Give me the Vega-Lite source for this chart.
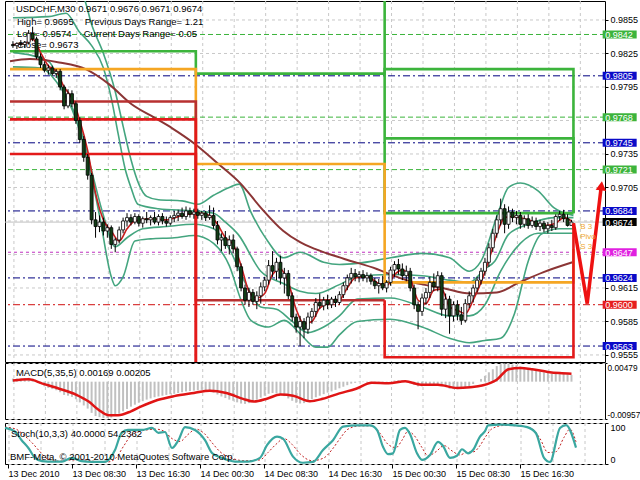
{
"$schema":"https://vega.github.io/schema/vega-lite/v6.json",
"padding":0,
"spacing":-2,
"background":"white",
"config":{
 "view":{"stroke":"#000","strokeWidth":1},
 "font":"Liberation Sans",
 "axis":{"labelFont":"Liberation Sans","labelFontSize":9,"labelColor":"#000","tickColor":"#000","tickSize":3,"domain":false,"title":null,"gridColor":"#c8c8c8","gridDash":[3,3],"gridWidth":1,"labelPadding":2,"labelOverlap":false}
},
"datasets":{
 "one":[{}],
 "vg":[{"g":1.25},{"g":9.25},{"g":17.25},{"g":25.25},{"g":33.25},{"g":41.25},{"g":49.25},{"g":57.25},{"g":65.25},{"g":73.25},{"g":81.25},{"g":89.25},{"g":97.25},{"g":105.25},{"g":113.25},{"g":121.25},{"g":129.25},{"g":137.25},{"g":145.25}],
 "hg":[{"p":0.9555},{"p":0.9585},{"p":0.9615},{"p":0.9645},{"p":0.9675},{"p":0.9705},{"p":0.9735},{"p":0.9765},{"p":0.9795},{"p":0.9825},{"p":0.9855}],
 "bars":[
{"i":1,"o":0.9833,"h":0.9836,"l":0.983,"c":0.9832,"m":0.0008},
{"i":2,"o":0.9832,"h":0.9835,"l":0.9829,"c":0.9834,"m":0.0008},
{"i":3,"o":0.9834,"h":0.9837,"l":0.9831,"c":0.9833,"m":0.0008},
{"i":4,"o":0.9833,"h":0.9836,"l":0.983,"c":0.9835,"m":0.0009},
{"i":5,"o":0.9835,"h":0.9846,"l":0.9833,"c":0.9843,"m":0.001},
{"i":6,"o":0.9843,"h":0.9849,"l":0.9836,"c":0.9838,"m":0.0008},
{"i":7,"o":0.9838,"h":0.984,"l":0.982,"c":0.9822,"m":0.0002},
{"i":8,"o":0.9822,"h":0.9825,"l":0.9812,"c":0.9815,"m":-0.0006},
{"i":9,"o":0.9815,"h":0.9818,"l":0.9808,"c":0.981,"m":-0.0012},
{"i":10,"o":0.981,"h":0.9815,"l":0.9806,"c":0.9812,"m":-0.0016},
{"i":11,"o":0.9812,"h":0.9814,"l":0.9805,"c":0.9807,"m":-0.0019},
{"i":12,"o":0.9807,"h":0.9811,"l":0.9803,"c":0.9809,"m":-0.0022},
{"i":13,"o":0.9809,"h":0.9811,"l":0.9792,"c":0.9795,"m":-0.0027},
{"i":14,"o":0.9795,"h":0.9797,"l":0.9775,"c":0.9778,"m":-0.0034},
{"i":15,"o":0.9778,"h":0.9793,"l":0.9776,"c":0.9789,"m":-0.0036},
{"i":16,"o":0.9789,"h":0.9792,"l":0.9777,"c":0.978,"m":-0.0039},
{"i":17,"o":0.978,"h":0.9782,"l":0.9762,"c":0.9765,"m":-0.0045},
{"i":18,"o":0.9765,"h":0.9768,"l":0.9745,"c":0.9748,"m":-0.0053},
{"i":19,"o":0.9748,"h":0.9751,"l":0.9728,"c":0.9732,"m":-0.0061},
{"i":20,"o":0.9732,"h":0.9735,"l":0.9712,"c":0.9716,"m":-0.0069},
{"i":21,"o":0.9716,"h":0.9718,"l":0.9672,"c":0.9676,"m":-0.008},
{"i":22,"o":0.9676,"h":0.9683,"l":0.966,"c":0.967,"m":-0.0088},
{"i":23,"o":0.967,"h":0.968,"l":0.9665,"c":0.9674,"m":-0.0091},
{"i":24,"o":0.9674,"h":0.9678,"l":0.9662,"c":0.9666,"m":-0.0093},
{"i":25,"o":0.9666,"h":0.9672,"l":0.966,"c":0.9669,"m":-0.0093},
{"i":26,"o":0.9669,"h":0.9671,"l":0.965,"c":0.9654,"m":-0.0092},
{"i":27,"o":0.9654,"h":0.966,"l":0.9647,"c":0.9658,"m":-0.0088},
{"i":28,"o":0.9658,"h":0.967,"l":0.9655,"c":0.9667,"m":-0.0082},
{"i":29,"o":0.9667,"h":0.9678,"l":0.9664,"c":0.9675,"m":-0.0076},
{"i":30,"o":0.9675,"h":0.9682,"l":0.967,"c":0.9678,"m":-0.007},
{"i":31,"o":0.9678,"h":0.9681,"l":0.9671,"c":0.9674,"m":-0.0064},
{"i":32,"o":0.9674,"h":0.9682,"l":0.9672,"c":0.9679,"m":-0.0059},
{"i":33,"o":0.9679,"h":0.9681,"l":0.967,"c":0.9673,"m":-0.0054},
{"i":34,"o":0.9673,"h":0.9679,"l":0.9669,"c":0.9677,"m":-0.005},
{"i":35,"o":0.9677,"h":0.9683,"l":0.9673,"c":0.9676,"m":-0.0046},
{"i":36,"o":0.9676,"h":0.968,"l":0.9671,"c":0.9678,"m":-0.0043},
{"i":37,"o":0.9678,"h":0.9683,"l":0.9672,"c":0.9674,"m":-0.004},
{"i":38,"o":0.9674,"h":0.9681,"l":0.9671,"c":0.9679,"m":-0.0038},
{"i":39,"o":0.9679,"h":0.9682,"l":0.9672,"c":0.9675,"m":-0.0036},
{"i":40,"o":0.9675,"h":0.9679,"l":0.967,"c":0.9673,"m":-0.0034},
{"i":41,"o":0.9673,"h":0.968,"l":0.9671,"c":0.9678,"m":-0.0032},
{"i":42,"o":0.9678,"h":0.9684,"l":0.9674,"c":0.968,"m":-0.0031},
{"i":43,"o":0.968,"h":0.9685,"l":0.9675,"c":0.9682,"m":-0.0029},
{"i":44,"o":0.9682,"h":0.9687,"l":0.9677,"c":0.9679,"m":-0.0027},
{"i":45,"o":0.9679,"h":0.9688,"l":0.9676,"c":0.9684,"m":-0.0025},
{"i":46,"o":0.9684,"h":0.9687,"l":0.9678,"c":0.9681,"m":-0.0024},
{"i":47,"o":0.9681,"h":0.9686,"l":0.9677,"c":0.9683,"m":-0.0023},
{"i":48,"o":0.9683,"h":0.9686,"l":0.9677,"c":0.968,"m":-0.0022},
{"i":49,"o":0.968,"h":0.9684,"l":0.9676,"c":0.9682,"m":-0.0021},
{"i":50,"o":0.9682,"h":0.9684,"l":0.9675,"c":0.9678,"m":-0.0022},
{"i":51,"o":0.9678,"h":0.9689,"l":0.9676,"c":0.968,"m":-0.0024},
{"i":52,"o":0.968,"h":0.9687,"l":0.9668,"c":0.9671,"m":-0.0028},
{"i":53,"o":0.9671,"h":0.9675,"l":0.9654,"c":0.9658,"m":-0.0033},
{"i":54,"o":0.9658,"h":0.9664,"l":0.9648,"c":0.966,"m":-0.0038},
{"i":55,"o":0.966,"h":0.9666,"l":0.965,"c":0.9653,"m":-0.0042},
{"i":56,"o":0.9653,"h":0.9662,"l":0.9645,"c":0.9658,"m":-0.0046},
{"i":57,"o":0.9658,"h":0.9663,"l":0.9646,"c":0.965,"m":-0.0049},
{"i":58,"o":0.965,"h":0.9652,"l":0.963,"c":0.9634,"m":-0.0053},
{"i":59,"o":0.9634,"h":0.9637,"l":0.9612,"c":0.9615,"m":-0.0056},
{"i":60,"o":0.9615,"h":0.9618,"l":0.96,"c":0.9604,"m":-0.0057},
{"i":61,"o":0.9604,"h":0.9615,"l":0.9598,"c":0.9611,"m":-0.0055},
{"i":62,"o":0.9611,"h":0.9614,"l":0.96,"c":0.9603,"m":-0.005},
{"i":63,"o":0.9603,"h":0.9612,"l":0.9596,"c":0.9608,"m":-0.0046},
{"i":64,"o":0.9608,"h":0.962,"l":0.9601,"c":0.9616,"m":-0.0041},
{"i":65,"o":0.9616,"h":0.9625,"l":0.9612,"c":0.9622,"m":-0.0036},
{"i":66,"o":0.9622,"h":0.964,"l":0.9618,"c":0.9635,"m":-0.0031},
{"i":67,"o":0.9635,"h":0.9648,"l":0.9625,"c":0.963,"m":-0.0029},
{"i":68,"o":0.963,"h":0.9642,"l":0.9622,"c":0.9638,"m":-0.003},
{"i":69,"o":0.9638,"h":0.9644,"l":0.9618,"c":0.9624,"m":-0.0033},
{"i":70,"o":0.9624,"h":0.9633,"l":0.961,"c":0.9628,"m":-0.0037},
{"i":71,"o":0.9628,"h":0.9631,"l":0.9605,"c":0.9608,"m":-0.0043},
{"i":72,"o":0.9608,"h":0.9611,"l":0.9585,"c":0.9589,"m":-0.0049},
{"i":73,"o":0.9589,"h":0.9592,"l":0.9575,"c":0.958,"m":-0.0054},
{"i":74,"o":0.958,"h":0.959,"l":0.9563,"c":0.9585,"m":-0.0056},
{"i":75,"o":0.9585,"h":0.9588,"l":0.957,"c":0.9578,"m":-0.0055},
{"i":76,"o":0.9578,"h":0.9593,"l":0.9574,"c":0.9589,"m":-0.005},
{"i":77,"o":0.9589,"h":0.9597,"l":0.9583,"c":0.9594,"m":-0.0045},
{"i":78,"o":0.9594,"h":0.9606,"l":0.9589,"c":0.9602,"m":-0.004},
{"i":79,"o":0.9602,"h":0.961,"l":0.9596,"c":0.9599,"m":-0.0036},
{"i":80,"o":0.9599,"h":0.9607,"l":0.9595,"c":0.9604,"m":-0.0032},
{"i":81,"o":0.9604,"h":0.9609,"l":0.9596,"c":0.96,"m":-0.0028},
{"i":82,"o":0.96,"h":0.9607,"l":0.9597,"c":0.9605,"m":-0.0025},
{"i":83,"o":0.9605,"h":0.9608,"l":0.9598,"c":0.9602,"m":-0.0021},
{"i":84,"o":0.9602,"h":0.9612,"l":0.96,"c":0.9609,"m":-0.0017},
{"i":85,"o":0.9609,"h":0.962,"l":0.9606,"c":0.9617,"m":-0.0013},
{"i":86,"o":0.9617,"h":0.9627,"l":0.9613,"c":0.9624,"m":-0.0009},
{"i":87,"o":0.9624,"h":0.9633,"l":0.9619,"c":0.9628,"m":-0.0005},
{"i":88,"o":0.9628,"h":0.9632,"l":0.9621,"c":0.9625,"m":-0.0003},
{"i":89,"o":0.9625,"h":0.963,"l":0.962,"c":0.9627,"m":-0.0001},
{"i":90,"o":0.9627,"h":0.9631,"l":0.9621,"c":0.9624,"m":-0.0001},
{"i":91,"o":0.9624,"h":0.9629,"l":0.962,"c":0.9626,"m":-0.0002},
{"i":92,"o":0.9626,"h":0.9628,"l":0.9618,"c":0.9621,"m":-0.0003},
{"i":93,"o":0.9621,"h":0.9624,"l":0.9614,"c":0.9617,"m":-0.0005},
{"i":94,"o":0.9617,"h":0.9623,"l":0.961,"c":0.9619,"m":-0.0006},
{"i":95,"o":0.9619,"h":0.9626,"l":0.9613,"c":0.9615,"m":-0.0005},
{"i":96,"o":0.9615,"h":0.9622,"l":0.9611,"c":0.962,"m":-0.0003},
{"i":97,"o":0.962,"h":0.9634,"l":0.9617,"c":0.9631,"m":0.0},
{"i":98,"o":0.9631,"h":0.9639,"l":0.9625,"c":0.9636,"m":0.0003},
{"i":99,"o":0.9636,"h":0.9641,"l":0.9627,"c":0.9632,"m":0.0004},
{"i":100,"o":0.9632,"h":0.9637,"l":0.9622,"c":0.9626,"m":0.0003},
{"i":101,"o":0.9626,"h":0.9635,"l":0.9621,"c":0.963,"m":0.0},
{"i":102,"o":0.963,"h":0.9633,"l":0.9612,"c":0.9615,"m":-0.0004},
{"i":103,"o":0.9615,"h":0.9618,"l":0.9596,"c":0.96,"m":-0.0008},
{"i":104,"o":0.96,"h":0.9603,"l":0.9578,"c":0.9594,"m":-0.0012},
{"i":105,"o":0.9594,"h":0.961,"l":0.959,"c":0.9606,"m":-0.0012},
{"i":106,"o":0.9606,"h":0.9615,"l":0.96,"c":0.9611,"m":-0.001},
{"i":107,"o":0.9611,"h":0.9625,"l":0.9606,"c":0.962,"m":-0.0007},
{"i":108,"o":0.962,"h":0.9628,"l":0.9612,"c":0.9616,"m":-0.0006},
{"i":109,"o":0.9616,"h":0.963,"l":0.9612,"c":0.9626,"m":-0.0007},
{"i":110,"o":0.9626,"h":0.9629,"l":0.959,"c":0.9596,"m":-0.0011},
{"i":111,"o":0.9596,"h":0.961,"l":0.9588,"c":0.9605,"m":-0.0014},
{"i":112,"o":0.9605,"h":0.9608,"l":0.9574,"c":0.959,"m":-0.0018},
{"i":113,"o":0.959,"h":0.9603,"l":0.9585,"c":0.96,"m":-0.0019},
{"i":114,"o":0.96,"h":0.9604,"l":0.9586,"c":0.9591,"m":-0.0019},
{"i":115,"o":0.9591,"h":0.9598,"l":0.9582,"c":0.9586,"m":-0.0018},
{"i":116,"o":0.9586,"h":0.9605,"l":0.9584,"c":0.9601,"m":-0.0015},
{"i":117,"o":0.9601,"h":0.9612,"l":0.9597,"c":0.9608,"m":-0.0011},
{"i":118,"o":0.9608,"h":0.9618,"l":0.9602,"c":0.9615,"m":-0.0006},
{"i":119,"o":0.9615,"h":0.9625,"l":0.9611,"c":0.9622,"m":0.0},
{"i":120,"o":0.9622,"h":0.9633,"l":0.9618,"c":0.963,"m":0.0007},
{"i":121,"o":0.963,"h":0.9642,"l":0.9626,"c":0.9638,"m":0.0015},
{"i":122,"o":0.9638,"h":0.9655,"l":0.9634,"c":0.9651,"m":0.0024},
{"i":123,"o":0.9651,"h":0.9668,"l":0.9647,"c":0.9664,"m":0.0032},
{"i":124,"o":0.9664,"h":0.968,"l":0.966,"c":0.9676,"m":0.004},
{"i":125,"o":0.9676,"h":0.9695,"l":0.9671,"c":0.9686,"m":0.0045},
{"i":126,"o":0.9686,"h":0.969,"l":0.9664,"c":0.9672,"m":0.0047},
{"i":127,"o":0.9672,"h":0.9688,"l":0.9668,"c":0.9683,"m":0.0046},
{"i":128,"o":0.9683,"h":0.9686,"l":0.9674,"c":0.9678,"m":0.0044},
{"i":129,"o":0.9678,"h":0.9684,"l":0.9672,"c":0.968,"m":0.0042},
{"i":130,"o":0.968,"h":0.9683,"l":0.9668,"c":0.9672,"m":0.0039},
{"i":131,"o":0.9672,"h":0.968,"l":0.9669,"c":0.9677,"m":0.0036},
{"i":132,"o":0.9677,"h":0.9681,"l":0.9668,"c":0.9671,"m":0.0033},
{"i":133,"o":0.9671,"h":0.9679,"l":0.9669,"c":0.9675,"m":0.003},
{"i":134,"o":0.9675,"h":0.9678,"l":0.9667,"c":0.967,"m":0.0028},
{"i":135,"o":0.967,"h":0.9676,"l":0.9666,"c":0.9673,"m":0.0026},
{"i":136,"o":0.9673,"h":0.9675,"l":0.9665,"c":0.9668,"m":0.0024},
{"i":137,"o":0.9668,"h":0.9674,"l":0.9664,"c":0.9671,"m":0.0022},
{"i":138,"o":0.9671,"h":0.9676,"l":0.9666,"c":0.9669,"m":0.002},
{"i":139,"o":0.9669,"h":0.9681,"l":0.9667,"c":0.9679,"m":0.002},
{"i":140,"o":0.9679,"h":0.9684,"l":0.9675,"c":0.9681,"m":0.0021},
{"i":141,"o":0.9681,"h":0.9685,"l":0.9674,"c":0.9677,"m":0.0021},
{"i":142,"o":0.9677,"h":0.9681,"l":0.967,"c":0.9671,"m":0.0019},
{"i":143,"o":0.9671,"h":0.9676,"l":0.9671,"c":0.9674,"m":0.0017}
 ],
 "ma":[{"i":1,"p":0.9833},{"i":4,"p":0.9834},{"i":6,"p":0.9838},{"i":8,"p":0.9826},{"i":10,"p":0.9814},{"i":12,"p":0.9809},{"i":14,"p":0.9795},{"i":16,"p":0.9785},{"i":18,"p":0.9765},{"i":20,"p":0.9738},{"i":22,"p":0.97},{"i":24,"p":0.9676},{"i":26,"p":0.9666},{"i":28,"p":0.9657},{"i":30,"p":0.9668},{"i":32,"p":0.9675},{"i":36,"p":0.9677},{"i":40,"p":0.9676},{"i":44,"p":0.968},{"i":48,"p":0.9682},{"i":51,"p":0.968},{"i":53,"p":0.9672},{"i":55,"p":0.966},{"i":57,"p":0.9654},{"i":59,"p":0.9635},{"i":61,"p":0.9612},{"i":63,"p":0.9606},{"i":65,"p":0.961},{"i":67,"p":0.9627},{"i":69,"p":0.9632},{"i":71,"p":0.962},{"i":73,"p":0.9596},{"i":75,"p":0.9583},{"i":77,"p":0.9585},{"i":79,"p":0.9597},{"i":82,"p":0.9602},{"i":84,"p":0.9604},{"i":86,"p":0.9615},{"i":88,"p":0.9624},{"i":91,"p":0.9625},{"i":94,"p":0.9619},{"i":96,"p":0.9617},{"i":98,"p":0.9627},{"i":100,"p":0.9631},{"i":102,"p":0.9624},{"i":104,"p":0.9604},{"i":106,"p":0.9601},{"i":108,"p":0.9613},{"i":110,"p":0.9614},{"i":112,"p":0.9598},{"i":114,"p":0.9595},{"i":116,"p":0.9592},{"i":118,"p":0.9604},{"i":120,"p":0.962},{"i":122,"p":0.964},{"i":124,"p":0.9663},{"i":126,"p":0.9678},{"i":128,"p":0.9679},{"i":132,"p":0.9676},{"i":136,"p":0.9671},{"i":139,"p":0.9673},{"i":141,"p":0.9678},{"i":143,"p":0.9675}],
 "brown":[{"i":0.25,"p":0.9818},{"i":5.25,"p":0.982},{"i":12.75,"p":0.9817},{"i":19.5,"p":0.9811},{"i":25.25,"p":0.9798},{"i":31,"p":0.978},{"i":37.75,"p":0.9766},{"i":41.5,"p":0.9758},{"i":47.25,"p":0.9744},{"i":53.25,"p":0.9726},{"i":59,"p":0.9708},{"i":64,"p":0.9687},{"i":69.75,"p":0.9666},{"i":74,"p":0.9656},{"i":77.75,"p":0.965},{"i":85.25,"p":0.9641},{"i":93.5,"p":0.9632},{"i":97.75,"p":0.9626},{"i":102.75,"p":0.962},{"i":110.25,"p":0.9615},{"i":117.25,"p":0.961},{"i":124,"p":0.9611},{"i":129.75,"p":0.962},{"i":135.75,"p":0.9629},{"i":143.25,"p":0.9638}],
 "bb":[
{"s":"u2","i":1,"p":0.9885},{"s":"u2","i":16,"p":0.9885},{"s":"u2","i":19,"p":0.9875},{"s":"u2","i":21,"p":0.9851},{"s":"u2","i":24,"p":0.9825},{"s":"u2","i":27,"p":0.9791},{"s":"u2","i":29,"p":0.976},{"s":"u2","i":31,"p":0.973},{"s":"u2","i":33,"p":0.9708},{"s":"u2","i":35,"p":0.9697},{"s":"u2","i":38,"p":0.9694},{"s":"u2","i":44,"p":0.9693},{"s":"u2","i":48,"p":0.969},{"s":"u2","i":52,"p":0.9698},{"s":"u2","i":56,"p":0.9705},{"s":"u2","i":58.5,"p":0.9708},{"s":"u2","i":61.5,"p":0.9683},{"s":"u2","i":65.75,"p":0.9657},{"s":"u2","i":69.75,"p":0.9642},{"s":"u2","i":74,"p":0.9647},{"s":"u2","i":80,"p":0.9638},{"s":"u2","i":84,"p":0.9636},{"s":"u2","i":88.5,"p":0.9637},{"s":"u2","i":97,"p":0.9642},{"s":"u2","i":105,"p":0.9646},{"s":"u2","i":112,"p":0.9642},{"s":"u2","i":117,"p":0.963},{"s":"u2","i":120,"p":0.9639},{"s":"u2","i":124.5,"p":0.9684},{"s":"u2","i":127,"p":0.9705},{"s":"u2","i":130,"p":0.9709},{"s":"u2","i":134.5,"p":0.9702},{"s":"u2","i":138.5,"p":0.9687},{"s":"u2","i":143.5,"p":0.968},
{"s":"u1","i":1,"p":0.9857},{"s":"u1","i":10,"p":0.9858},{"s":"u1","i":14.5,"p":0.9861},{"s":"u1","i":17.75,"p":0.9845},{"s":"u1","i":21,"p":0.9832},{"s":"u1","i":24,"p":0.9812},{"s":"u1","i":26,"p":0.9785},{"s":"u1","i":27.75,"p":0.9753},{"s":"u1","i":29.5,"p":0.9722},{"s":"u1","i":31,"p":0.9705},{"s":"u1","i":32.75,"p":0.969},{"s":"u1","i":38,"p":0.9686},{"s":"u1","i":47,"p":0.9684},{"s":"u1","i":52,"p":0.9682},{"s":"u1","i":55,"p":0.9674},{"s":"u1","i":58.25,"p":0.9663},{"s":"u1","i":64,"p":0.963},{"s":"u1","i":69.75,"p":0.9619},{"s":"u1","i":74,"p":0.9612},{"s":"u1","i":78,"p":0.961},{"s":"u1","i":84,"p":0.9618},{"s":"u1","i":88.5,"p":0.9625},{"s":"u1","i":97,"p":0.9627},{"s":"u1","i":105,"p":0.9626},{"s":"u1","i":112,"p":0.9622},{"s":"u1","i":117,"p":0.962},{"s":"u1","i":121,"p":0.9632},{"s":"u1","i":123.5,"p":0.9639},{"s":"u1","i":127,"p":0.9663},{"s":"u1","i":132,"p":0.9672},{"s":"u1","i":138.5,"p":0.9678},{"s":"u1","i":143.5,"p":0.9678},
{"s":"l1","i":1,"p":0.9826},{"s":"l1","i":10,"p":0.9818},{"s":"l1","i":14,"p":0.979},{"s":"l1","i":18,"p":0.976},{"s":"l1","i":21,"p":0.972},{"s":"l1","i":24,"p":0.968},{"s":"l1","i":27,"p":0.9652},{"s":"l1","i":30,"p":0.966},{"s":"l1","i":34,"p":0.9668},{"s":"l1","i":40,"p":0.967},{"s":"l1","i":47,"p":0.9672},{"s":"l1","i":52,"p":0.9668},{"s":"l1","i":56,"p":0.965},{"s":"l1","i":60,"p":0.962},{"s":"l1","i":64,"p":0.9598},{"s":"l1","i":68,"p":0.9596},{"s":"l1","i":72,"p":0.9585},{"s":"l1","i":76,"p":0.9575},{"s":"l1","i":80,"p":0.958},{"s":"l1","i":84,"p":0.959},{"s":"l1","i":88.5,"p":0.9605},{"s":"l1","i":97,"p":0.9606},{"s":"l1","i":105,"p":0.9598},{"s":"l1","i":112,"p":0.959},{"s":"l1","i":117,"p":0.959},{"s":"l1","i":121,"p":0.96},{"s":"l1","i":125,"p":0.963},{"s":"l1","i":130,"p":0.9655},{"s":"l1","i":134.5,"p":0.9664},{"s":"l1","i":143.5,"p":0.9664},
{"s":"l2","i":1,"p":0.9813},{"s":"l2","i":8,"p":0.9812},{"s":"l2","i":12,"p":0.98},{"s":"l2","i":16,"p":0.9775},{"s":"l2","i":20,"p":0.973},{"s":"l2","i":23,"p":0.968},{"s":"l2","i":26,"p":0.9625},{"s":"l2","i":27,"p":0.9617},{"s":"l2","i":29,"p":0.9625},{"s":"l2","i":32,"p":0.9657},{"s":"l2","i":36,"p":0.9659},{"s":"l2","i":42,"p":0.966},{"s":"l2","i":47,"p":0.9662},{"s":"l2","i":52,"p":0.9655},{"s":"l2","i":56,"p":0.9635},{"s":"l2","i":59,"p":0.9604},{"s":"l2","i":61.5,"p":0.9586},{"s":"l2","i":66,"p":0.958},{"s":"l2","i":70,"p":0.9586},{"s":"l2","i":74,"p":0.9574},{"s":"l2","i":78,"p":0.9562},{"s":"l2","i":81,"p":0.9562},{"s":"l2","i":84,"p":0.9573},{"s":"l2","i":88.5,"p":0.9585},{"s":"l2","i":97,"p":0.9587},{"s":"l2","i":105,"p":0.958},{"s":"l2","i":112,"p":0.957},{"s":"l2","i":117,"p":0.9566},{"s":"l2","i":121,"p":0.9568},{"s":"l2","i":125,"p":0.957},{"s":"l2","i":128.5,"p":0.9592},{"s":"l2","i":132,"p":0.9639},{"s":"l2","i":135.25,"p":0.9663},{"s":"l2","i":140,"p":0.9668},{"s":"l2","i":143.5,"p":0.9668}
 ],
 "piv":[
{"s":"g1","k":"g","n":1,"i":0.25,"p":0.9827},{"s":"g1","k":"g","n":2,"i":47.5,"p":0.9807},{"s":"g1","k":"g","n":3,"i":95.5,"p":0.9811},{"s":"g1","k":"g","n":4,"i":143.5,"p":0.9682},
{"s":"g2","k":"g","n":1,"i":95.5,"p":0.9749},{"s":"g2","k":"g","n":2,"i":143.5,"p":0.9682},
{"s":"g3","k":"g","n":1,"i":47.5,"p":0.99},{"s":"g3","k":"g","n":2,"i":95.5,"p":0.9682},{"s":"g3","k":"g","n":3,"i":143.5,"p":0.9682},
{"s":"o1","k":"o","n":1,"i":0.25,"p":0.9811},{"s":"o1","k":"o","n":2,"i":47.5,"p":0.9726},{"s":"o1","k":"o","n":3,"i":95.5,"p":0.962},{"s":"o1","k":"o","n":4,"i":143.5,"p":0.965},
{"s":"d1","k":"d","n":1,"i":0.25,"p":0.9782},{"s":"d1","k":"d","n":2,"i":47.5,"p":0.9604},{"s":"d1","k":"d","n":3,"i":95.5,"p":0.9604},
{"s":"r1","k":"r","n":1,"i":0.25,"p":0.9766},{"s":"r1","k":"r","n":2,"i":47.5,"p":0.94},
{"s":"r2","k":"r","n":1,"i":0.25,"p":0.9735},{"s":"r2","k":"r","n":2,"i":47.5,"p":0.94},
{"s":"r3","k":"r","n":1,"i":95.5,"p":0.9604},{"s":"r3","k":"r","n":2,"i":95.5,"p":0.9553},{"s":"r3","k":"r","n":3,"i":143.5,"p":0.9553},{"s":"r3","k":"r","n":4,"i":143.5,"p":0.9673}
 ],
 "zz":[{"i":143.5,"p":0.9673},{"i":147,"p":0.9601},{"i":150.5,"p":0.9704}],
 "lev":[{"p":0.9842,"k":"g"},{"p":0.9805,"k":"b"},{"p":0.9768,"k":"g"},{"p":0.9745,"k":"b"},{"p":0.9721,"k":"g"},{"p":0.9684,"k":"b"},{"p":0.9674,"k":"k"},{"p":0.9647,"k":"m"},{"p":0.9624,"k":"b"},{"p":0.96,"k":"r"},{"p":0.9563,"k":"b"}],
 "sig":[{"i":1,"v":0.0003},{"i":5,"v":0.0006},{"i":8.5,"v":-0.0005},{"i":12.75,"v":-0.0018},{"i":17,"v":-0.0033},{"i":20.25,"v":-0.0051},{"i":22.75,"v":-0.0072},{"i":25.25,"v":-0.0086},{"i":27.75,"v":-0.0086},{"i":31,"v":-0.0076},{"i":33.5,"v":-0.0064},{"i":37.75,"v":-0.0047},{"i":42,"v":-0.0037},{"i":47,"v":-0.0029},{"i":51,"v":-0.0023},{"i":55.25,"v":-0.0029},{"i":59.5,"v":-0.0044},{"i":62.25,"v":-0.0051},{"i":65.75,"v":-0.0043},{"i":69,"v":-0.0033},{"i":72.25,"v":-0.0036},{"i":76.5,"v":-0.005},{"i":79.75,"v":-0.0044},{"i":84,"v":-0.003},{"i":88.25,"v":-0.0018},{"i":92.25,"v":-0.0003},{"i":96.5,"v":-0.0004},{"i":100.75,"v":0.0001},{"i":104.75,"v":-0.0008},{"i":109,"v":-0.0008},{"i":114,"v":-0.0016},{"i":117.25,"v":-0.0014},{"i":120.25,"v":-0.001},{"i":124,"v":0.0005},{"i":127,"v":0.0032},{"i":130,"v":0.0035},{"i":133,"v":0.0032},{"i":137,"v":0.0025},{"i":140,"v":0.0022},{"i":143,"v":0.00205}],
 "stk":[{"i":0.25,"v":88},{"i":2.75,"v":79},{"i":4.4,"v":58},{"i":6.1,"v":39},{"i":7.75,"v":15},{"i":9.5,"v":7},{"i":11,"v":6},{"i":14.5,"v":6},{"i":16.9,"v":15},{"i":19.4,"v":7},{"i":22,"v":5},{"i":25.25,"v":5},{"i":27.75,"v":34},{"i":29.4,"v":76},{"i":31,"v":83},{"i":34.5,"v":83},{"i":37,"v":88},{"i":38.6,"v":76},{"i":40.25,"v":78},{"i":42,"v":39},{"i":43.6,"v":58},{"i":45.25,"v":90},{"i":47.75,"v":83},{"i":50.25,"v":58},{"i":52,"v":27},{"i":54.4,"v":15},{"i":57.75,"v":6},{"i":61,"v":6},{"i":64,"v":15},{"i":65.75,"v":46},{"i":68.25,"v":67},{"i":69.75,"v":62},{"i":72.25,"v":18},{"i":74.75,"v":3},{"i":77.25,"v":5},{"i":79.75,"v":34},{"i":82.25,"v":58},{"i":84.75,"v":91},{"i":88.25,"v":94},{"i":91.5,"v":94},{"i":93.25,"v":83},{"i":94.75,"v":42},{"i":96,"v":24},{"i":97.25,"v":26},{"i":99,"v":83},{"i":100.25,"v":88},{"i":101.5,"v":73},{"i":103.25,"v":26},{"i":104.5,"v":10},{"i":106.5,"v":22},{"i":108.5,"v":54},{"i":109.75,"v":44},{"i":111.5,"v":15},{"i":113.25,"v":20},{"i":114.5,"v":36},{"i":116,"v":26},{"i":117.25,"v":34},{"i":119,"v":67},{"i":120.25,"v":80},{"i":121,"v":94},{"i":124,"v":96},{"i":127.8,"v":94},{"i":130.8,"v":90},{"i":133,"v":75},{"i":135,"v":15},{"i":136.5,"v":5},{"i":139,"v":88},{"i":140.5,"v":95},{"i":143,"v":40}],
 "std":[{"i":0.25,"v":90},{"i":3,"v":85},{"i":5,"v":70},{"i":7,"v":52},{"i":9,"v":30},{"i":11,"v":12},{"i":14,"v":7},{"i":17,"v":10},{"i":20,"v":10},{"i":23,"v":6},{"i":26,"v":5},{"i":28,"v":15},{"i":30,"v":45},{"i":32,"v":72},{"i":35,"v":82},{"i":38,"v":85},{"i":40,"v":80},{"i":42,"v":62},{"i":44,"v":55},{"i":46,"v":72},{"i":48,"v":85},{"i":50,"v":75},{"i":52,"v":52},{"i":54,"v":30},{"i":57,"v":14},{"i":60,"v":8},{"i":64,"v":10},{"i":66,"v":28},{"i":68,"v":48},{"i":70,"v":62},{"i":72,"v":48},{"i":74,"v":25},{"i":77,"v":8},{"i":80,"v":15},{"i":82,"v":35},{"i":84,"v":62},{"i":86,"v":85},{"i":89,"v":93},{"i":92,"v":93},{"i":94,"v":75},{"i":96,"v":48},{"i":98,"v":40},{"i":99.5,"v":58},{"i":101,"v":80},{"i":102.5,"v":70},{"i":104.5,"v":40},{"i":106,"v":20},{"i":108,"v":30},{"i":110,"v":45},{"i":112,"v":32},{"i":114,"v":22},{"i":115.5,"v":28},{"i":117.5,"v":30},{"i":119,"v":45},{"i":120.5,"v":68},{"i":122,"v":86},{"i":125,"v":94},{"i":129,"v":93},{"i":132,"v":86},{"i":134,"v":62},{"i":136,"v":28},{"i":138,"v":30},{"i":140,"v":65},{"i":141.5,"v":85},{"i":143,"v":54}]
},
"vconcat":[
 {
  "width":600,"height":361,
  "resolve":{"scale":{"color":"independent","fill":"independent","strokeDash":"independent"}},
  "layer":[
   {"data":{"name":"vg"},"mark":{"type":"rule","color":"#c8c8c8","strokeDash":[3,3],"strokeWidth":1},
    "encoding":{"x":{"field":"g","type":"quantitative","scale":{"domain":[0.25,150.25],"nice":false,"zero":false},"axis":null}}},
   {"data":{"name":"hg"},"mark":{"type":"rule","color":"#c8c8c8","strokeDash":[3,3],"strokeWidth":1},
    "encoding":{"y":{"field":"p","type":"quantitative","scale":{"domain":[0.95487,0.9872],"nice":false,"zero":false},
      "axis":{"orient":"right","values":[0.9555,0.9585,0.9615,0.9705,0.9735,0.9795,0.9825,0.9855],"format":".4f","grid":false,"ticks":true}}}},
   {"data":{"name":"lev"},"mark":{"type":"rule","strokeWidth":1},
    "encoding":{"y":{"field":"p","type":"quantitative"},
     "color":{"field":"k","type":"nominal","scale":{"domain":["g","b","k","m","r"],"range":["#3cb43c","#000080","#c0c0c0","#c030c0","#d01010"]},"legend":null},
     "strokeDash":{"field":"k","type":"nominal","scale":{"domain":["g","b","k","m","r"],"range":[[5,3],[7,3,2,3],[1,0],[3,3],[7,3,2,3]]},"legend":null}}},
   {"data":{"name":"bb"},"mark":{"type":"line","color":"#44a57f","strokeWidth":1.6,"clip":true,"interpolate":"monotone"},
    "encoding":{"x":{"field":"i","type":"quantitative","axis":null},"y":{"field":"p","type":"quantitative"},"detail":{"field":"s"}}},
   {"data":{"name":"brown"},"mark":{"type":"line","color":"#8b3535","strokeWidth":2,"clip":true,"interpolate":"monotone"},
    "encoding":{"x":{"field":"i","type":"quantitative","axis":null},"y":{"field":"p","type":"quantitative"}}},
   {"data":{"name":"piv"},"mark":{"type":"line","strokeWidth":2.6,"clip":true,"interpolate":"step-after"},
    "encoding":{"x":{"field":"i","type":"quantitative","axis":null},"y":{"field":"p","type":"quantitative"},"detail":{"field":"s"},"order":{"field":"n"},
     "color":{"field":"k","type":"nominal","scale":{"domain":["g","o","d","r"],"range":["#3cb43c","#f5a623","#b83030","#e31a1a"]},"legend":null}}},
   {"data":{"name":"one"},"mark":{"type":"text","align":"left","baseline":"middle","fontSize":9.5,"color":"#000"},
    "encoding":{"x":{"datum":1.75,"type":"quantitative","axis":null},"y":{"datum":0.98648,"type":"quantitative"},"text":{"value":"USDCHF,M30  0.9671 0.9676 0.9671 0.9674"}}},
   {"data":{"name":"one"},"mark":{"type":"text","align":"left","baseline":"middle","fontSize":9.5,"color":"#000"},
    "encoding":{"x":{"datum":2,"type":"quantitative","axis":null},"y":{"datum":0.98532,"type":"quantitative"},"text":{"value":"High= 0.9695"}}},
   {"data":{"name":"one"},"mark":{"type":"text","align":"left","baseline":"middle","fontSize":9.5,"color":"#000"},
    "encoding":{"x":{"datum":19.25,"type":"quantitative","axis":null},"y":{"datum":0.98532,"type":"quantitative"},"text":{"value":"Previous Days Range= 1.21"}}},
   {"data":{"name":"one"},"mark":{"type":"text","align":"left","baseline":"middle","fontSize":9.5,"color":"#000"},
    "encoding":{"x":{"datum":2,"type":"quantitative","axis":null},"y":{"datum":0.98425,"type":"quantitative"},"text":{"value":"Low= 0.9574"}}},
   {"data":{"name":"one"},"mark":{"type":"text","align":"left","baseline":"middle","fontSize":9.5,"color":"#000"},
    "encoding":{"x":{"datum":19,"type":"quantitative","axis":null},"y":{"datum":0.98425,"type":"quantitative"},"text":{"value":"Current Days Range= 0.05"}}},
   {"data":{"name":"one"},"mark":{"type":"text","align":"left","baseline":"middle","fontSize":9.5,"color":"#000"},
    "encoding":{"x":{"datum":2,"type":"quantitative","axis":null},"y":{"datum":0.98326,"type":"quantitative"},"text":{"value":"Close= 0.9673"}}},
   {"data":{"name":"ma"},"mark":{"type":"line","color":"#c81e1e","strokeWidth":1.6,"interpolate":"monotone"},
    "encoding":{"x":{"field":"i","type":"quantitative","axis":null},"y":{"field":"p","type":"quantitative"}}},
   {"data":{"name":"bars"},"mark":{"type":"rule","color":"#000","strokeWidth":1},
    "encoding":{"x":{"field":"i","type":"quantitative","axis":null},"y":{"field":"l","type":"quantitative"},"y2":{"field":"h"}}},
   {"data":{"name":"bars"},"mark":{"type":"bar","width":3,"stroke":"#000","strokeWidth":0.8},
    "encoding":{"x":{"field":"i","type":"quantitative","axis":null},"y":{"field":"o","type":"quantitative"},"y2":{"field":"c"},
     "fill":{"condition":{"test":"datum.c >= datum.o","value":"#ffffff"},"value":"#123e16"}}},
   {"data":{"name":"zz"},"mark":{"type":"line","color":"#ee1111","strokeWidth":3.5},
    "encoding":{"x":{"field":"i","type":"quantitative","axis":null},"y":{"field":"p","type":"quantitative"}}},
   {"data":{"name":"one"},"mark":{"type":"point","shape":"triangle-up","size":110,"filled":true,"color":"#ee1111","opacity":1,"angle":7},
    "encoding":{"x":{"datum":150.6,"type":"quantitative","axis":null},"y":{"datum":0.97065,"type":"quantitative"}}},
   {"data":{"name":"one"},"mark":{"type":"text","align":"left","baseline":"middle","fontSize":8,"color":"#f0a830"},
    "encoding":{"x":{"datum":145.2,"type":"quantitative","axis":null},"y":{"datum":0.967,"type":"quantitative"},"text":{"value":"B 3"}}},
   {"data":{"name":"one"},"mark":{"type":"text","align":"left","baseline":"middle","fontSize":8,"color":"#f0a830"},
    "encoding":{"x":{"datum":145.2,"type":"quantitative","axis":null},"y":{"datum":0.9661,"type":"quantitative"},"text":{"value":"Pivo"}}},
   {"data":{"name":"one"},"mark":{"type":"text","align":"left","baseline":"middle","fontSize":8,"color":"#f0a830"},
    "encoding":{"x":{"datum":145.2,"type":"quantitative","axis":null},"y":{"datum":0.9652,"type":"quantitative"},"text":{"value":"S 3"}}},
   {"data":{"name":"lev"},"mark":{"type":"point","shape":"M-1.7,-0.4H1.7V0.4H-1.7Z","size":400,"filled":true,"opacity":1,"strokeWidth":0},
    "encoding":{"x":{"datum":155.25,"type":"quantitative","axis":null},"y":{"field":"p","type":"quantitative"},
     "fill":{"field":"k","type":"nominal","scale":{"domain":["g","b","k","m","r"],"range":["#3cb43c","#0a0ac8","#000000","#e020e0","#e61e1e"]},"legend":null}}},
   {"data":{"name":"lev"},"mark":{"type":"text","align":"left","baseline":"middle","fontSize":9,"color":"#ffffff","dy":0.5},
    "encoding":{"x":{"datum":151.6,"type":"quantitative","axis":null},"y":{"field":"p","type":"quantitative"},"text":{"field":"p","type":"quantitative","format":".4f"}}}
  ]
 },
 {
  "width":600,"height":56,
  "layer":[
   {"data":{"name":"vg"},"mark":{"type":"rule","color":"#c8c8c8","strokeDash":[3,3],"strokeWidth":1},
    "encoding":{"x":{"field":"g","type":"quantitative","scale":{"domain":[0.25,150.25],"nice":false,"zero":false},"axis":null}}},
   {"data":{"name":"bars"},"mark":{"type":"bar","width":2,"color":"#c0c0c0"},
    "encoding":{"x":{"field":"i","type":"quantitative","axis":null},"y":{"field":"m","type":"quantitative","scale":{"domain":[-0.00957,0.00479],"nice":false,"zero":false},
      "axis":{"orient":"right","values":[-0.00957,0,0.00479],"labelExpr":"datum.value == 0 ? '0.00' : (datum.value < 0 ? '-0.00957' : '0.00479')","labelFlush":true,"grid":true,"labelFontSize":8.3,"labelPadding":0,"tickSize":2}},"y2":{"datum":0}}},
   {"data":{"name":"sig"},"mark":{"type":"line","color":"#e01515","strokeWidth":2.5,"interpolate":"monotone"},
    "encoding":{"x":{"field":"i","type":"quantitative","axis":null},"y":{"field":"v","type":"quantitative"}}},
   {"data":{"name":"one"},"mark":{"type":"text","align":"left","baseline":"middle","fontSize":9.5,"color":"#000"},
    "encoding":{"x":{"datum":1.75,"type":"quantitative","axis":null},"y":{"datum":0.0021,"type":"quantitative"},"text":{"value":"MACD(5,35,5) 0.00169 0.00205"}}}
  ]
 },
 {
  "width":600,"height":41,
  "layer":[
   {"data":{"name":"vg"},"mark":{"type":"rule","color":"#c8c8c8","strokeDash":[3,3],"strokeWidth":1},
    "encoding":{"x":{"field":"g","type":"quantitative","scale":{"domain":[0.25,150.25],"nice":false,"zero":false},
      "axis":{"orient":"bottom","values":[1,17,33,49,65,81,97,113,129],"grid":false,"labelAlign":"left","tickSize":4,"labelPadding":1,"labelFontSize":9,
       "labelExpr":"datum.value==1?'13 Dec 2010':datum.value==17?'13 Dec 08:30':datum.value==33?'13 Dec 16:30':datum.value==49?'14 Dec 00:30':datum.value==65?'14 Dec 08:30':datum.value==81?'14 Dec 16:30':datum.value==97?'15 Dec 00:30':datum.value==113?'15 Dec 08:30':'15 Dec 16:30'"}}}},
   {"data":{"name":"std"},"mark":{"type":"line","color":"#c02020","strokeWidth":1,"strokeDash":[2,2],"interpolate":"monotone"},
    "encoding":{"x":{"field":"i","type":"quantitative"},"y":{"field":"v","type":"quantitative","scale":{"domain":[0,100],"nice":false},
      "axis":{"orient":"right","values":[0,20,80,100],"labelFlush":true,"grid":true,"labelFontSize":9}}}},
   {"data":{"name":"stk"},"mark":{"type":"line","color":"#3aa7a0","strokeWidth":2.2,"interpolate":"monotone"},
    "encoding":{"x":{"field":"i","type":"quantitative"},"y":{"field":"v","type":"quantitative"}}},
   {"data":{"name":"one"},"mark":{"type":"text","align":"left","baseline":"middle","fontSize":9.5,"color":"#000"},
    "encoding":{"x":{"datum":1.75,"type":"quantitative"},"y":{"datum":73,"type":"quantitative"},"text":{"value":"Stoch(10,3,3) 40.0000 54.2362"}}},
   {"data":{"name":"one"},"mark":{"type":"text","align":"left","baseline":"middle","fontSize":9.5,"color":"#000"},
    "encoding":{"x":{"datum":1.5,"type":"quantitative"},"y":{"datum":17,"type":"quantitative"},"text":{"value":"BMF-Meta, © 2001-2010 MetaQuotes Software Corp."}}}
  ]
 }
]
}
